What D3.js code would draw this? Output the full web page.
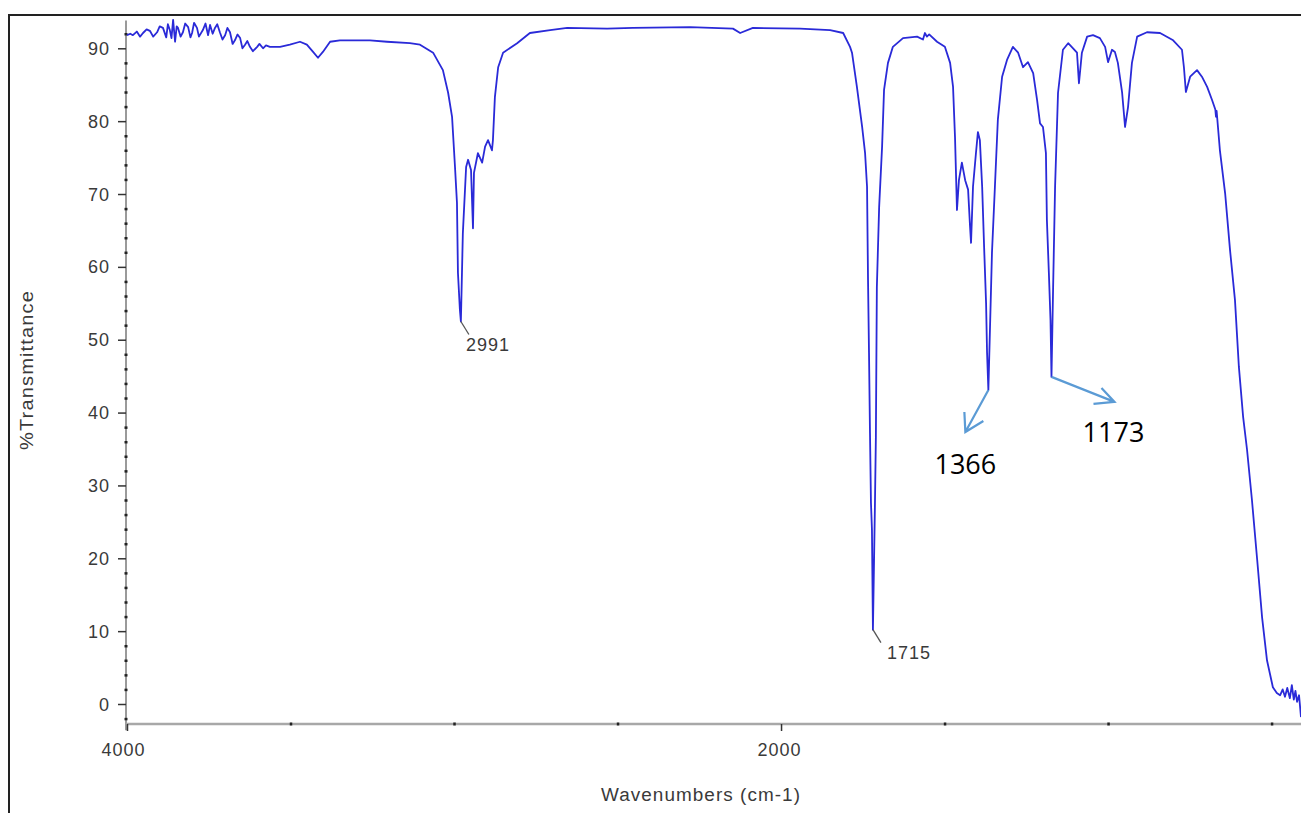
<!DOCTYPE html>
<html>
<head>
<meta charset="utf-8">
<script src="https://cdn.jsdelivr.net/npm/d3@7"></script>
<style>
  html, body { margin: 0; padding: 0; background: #ffffff; }
  svg { display: block; }
  .tick-label { font-family: "Liberation Sans", Arial, sans-serif; font-size: 18px; fill: #3a3a3a; letter-spacing: 1px; }
  .anno { font-family: "Open Sans", "Noto Sans", sans-serif; font-size: 27px; fill: #000; }
</style>
</head>
<body>
<script>
// ---- Data ----
const wavenumbers = [
  4000, 3990, 3982, 3970, 3960, 3951, 3940, 3930, 3920, 3908, 3900, 3890, 3880, 3875, 3869, 3864, 3859, 3853, 3848, 3844,
  3836, 3829, 3822, 3813, 3806, 3801, 3795, 3786, 3780, 3768, 3760, 3752, 3746, 3738, 3731, 3724, 3716, 3708, 3700, 3693,
  3685, 3677, 3670, 3662, 3654, 3647, 3639, 3632, 3624, 3615, 3602, 3595, 3584, 3575, 3563,
  3532, 3502, 3471, 3450, 3431, 3416, 3401, 3379, 3349, 3257, 3205, 3135, 3104,
  3064, 3034, 3018, 3006, 2997, 2991, 2988, 2982, 2979, 2973, 2963, 2957, 2948, 2942, 2939, 2927, 2914, 2905, 2896, 2884,
  2881, 2875, 2865, 2850, 2807, 2768, 2706, 2654, 2532, 2453, 2278, 2147, 2125, 2086, 1942, 1850, 1810, 1789, 1783, 1768,
  1752, 1743, 1737, 1734, 1731, 1728, 1725, 1722, 1719, 1713, 1710, 1707, 1700, 1691, 1685, 1673, 1658, 1627, 1584, 1566,
  1560, 1554, 1547, 1523, 1499, 1483, 1474, 1468, 1462, 1456, 1447, 1437, 1428, 1422, 1419, 1413, 1404, 1398, 1392, 1385,
  1379, 1373, 1370, 1366, 1355, 1346, 1337, 1324, 1309, 1291, 1275, 1260, 1245, 1229, 1217, 1208, 1199, 1190, 1187, 1181,
  1176, 1173, 1168, 1162, 1153, 1138, 1122, 1107, 1095, 1089, 1080, 1064, 1046, 1025, 1009, 1000, 988, 979, 970, 957,
  948, 939, 927, 911, 881, 841, 801, 774, 768, 762, 749, 728, 713, 697, 682, 672, 670, 668, 658, 642,
  627, 612, 600, 587, 575, 560, 544, 529, 514, 496, 484, 474, 466, 459, 452, 444, 438, 432, 427, 422,
  416, 410
];
const transmittance = [
  91.8, 92.0, 91.8, 92.3, 91.6, 92.1, 92.6, 92.4, 91.6, 92.2, 93.0, 92.8, 91.5, 93.3, 92.5, 91.4, 93.9, 90.9, 93.0, 92.8,
  91.6, 92.2, 93.4, 92.9, 91.5, 92.1, 93.5, 92.8, 91.6, 92.5, 93.4, 91.8, 93.2, 92.0, 92.8, 93.3, 92.2, 91.2, 91.8, 92.8,
  92.2, 90.6, 91.1, 91.9, 91.4, 90.0, 90.5, 91.0, 90.2, 89.6, 90.2, 90.6, 90.0, 90.4, 90.2,
  90.2, 90.5, 90.9, 90.5, 89.5, 88.7, 89.5, 90.9, 91.1, 91.1, 90.9, 90.7, 90.5,
  89.4, 87.0, 83.9, 80.6, 73.7, 68.8, 59.2, 54.1, 52.5, 64.6, 73.7, 74.7, 73.3, 65.3, 72.9, 75.6, 74.3, 76.5, 77.4, 76.0,
  77.4, 83.3, 87.4, 89.4, 90.7, 92.1, 92.5, 92.8, 92.7, 92.8, 92.9, 92.7, 92.1, 92.8, 92.7, 92.5, 92.1, 90.2, 89.4, 84.7,
  79.2, 75.6, 71.0, 58.2, 48.2, 37.2, 27.6, 23.9, 10.2, 27.0, 36.6, 57.2, 68.2, 76.5, 84.3, 88.0, 90.2, 91.4, 91.6, 91.2,
  92.1, 91.6, 91.9, 90.9, 90.2, 88.0, 84.7, 77.8, 67.8, 71.9, 74.3, 71.9, 70.6, 65.5, 63.3, 71.0, 75.6, 78.5, 77.4, 71.0,
  62.7, 55.0, 48.2, 43.1, 61.9, 71.0, 80.2, 86.1, 88.4, 90.2, 89.4, 87.4, 88.1, 86.6, 82.9, 79.7, 79.2, 75.6, 66.4, 59.2,
  52.7, 44.9, 57.2, 71.0, 83.9, 89.8, 90.7, 90.0, 89.4, 85.2, 89.4, 91.6, 91.8, 91.4, 90.2, 88.1, 89.8, 89.5, 88.0, 83.9,
  79.2, 81.9, 88.0, 91.6, 92.2, 92.1, 91.1, 89.8, 87.4, 84.0, 86.1, 87.0, 86.1, 84.7, 82.9, 81.6, 80.6, 81.4, 76.0, 70.1,
  62.3, 55.5, 46.3, 39.4, 34.9, 28.0, 19.8, 11.9, 6.0, 2.3, 1.5, 1.2, 2.0, 1.0, 2.2, 0.8, 2.6, 0.6, 1.8, 0.3,
  1.2, -1.8
];
const yTickValues = [0, 10, 20, 30, 40, 50, 60, 70, 80, 90];
const yMinorValues = [-2, 2, 4, 6, 8, 12, 14, 16, 18, 22, 24, 26, 28, 32, 34, 36, 38, 42, 44, 46, 48, 52, 54, 56, 58, 62, 64, 66, 68, 72, 74, 76, 78, 82, 84, 86, 88, 92];
const xTickValues = [4000, 2000];
const xMinorValues = [3500, 3000, 2500, 1500, 1000, 500];
const peakLabels = [ { wn: 2979, t: 52.5, text: "2991" }, { wn: 1719, t: 10.2, text: "1715" } ];
const arrowLabels = [ { wn: 1366, t: 43.1, text: "1366" }, { wn: 1173, t: 44.9, text: "1173" } ];
const xTitle = "Wavenumbers (cm-1)";
const yTitle = "%Transmittance";

// ---- Layout ----
const W = 1301, H = 813;
const svg = d3.select("body").append("svg").attr("width", W).attr("height", H);

const x = d3.scaleLinear().domain([4000, 410]).range([127, 1301]);
const y = d3.scaleLinear().domain([0, 90]).range([704, 48.3]);

// frame (top and left)
svg.append("path").attr("d", `M9,${H} L9,15 L${W},15`).attr("fill", "none").attr("stroke", "#222").attr("stroke-width", 2);

// y axis line
const axisX = 126;
svg.append("line").attr("x1", axisX).attr("x2", axisX).attr("y1", y(93.8)).attr("y2", y(-3.6))
  .attr("stroke", "#9a9a9a").attr("stroke-width", 2);
// x axis line
const axisY = 724;
svg.append("line").attr("x1", axisX).attr("x2", W).attr("y1", axisY).attr("y2", axisY)
  .attr("stroke", "#a8a8a8").attr("stroke-width", 2.5);

// y axis ticks via d3 axis
const yAxis = svg.append("g").attr("transform", `translate(${axisX},0)`)
  .call(d3.axisLeft(y).tickValues(yTickValues).tickSize(8).tickPadding(8).tickFormat(d3.format("d")));
yAxis.select(".domain").remove();
yAxis.selectAll(".tick line").attr("stroke", "#333").attr("stroke-width", 1.5);
yAxis.selectAll(".tick text").attr("class", "tick-label").attr("dy", "0.34em");

const yMinor = svg.append("g").attr("transform", `translate(${axisX + 1.5},0)`)
  .call(d3.axisLeft(y).tickValues(yMinorValues).tickSize(3).tickFormat(""));
yMinor.select(".domain").remove();
yMinor.selectAll(".tick line").attr("stroke", "#222").attr("stroke-width", 2.5);

// x axis ticks
const xAxis = svg.append("g").attr("transform", `translate(0,${axisY})`)
  .call(d3.axisBottom(x).tickValues(xTickValues).tickSize(7).tickPadding(12).tickFormat(d3.format("d")));
xAxis.select(".domain").remove();
xAxis.selectAll(".tick line").attr("stroke", "#333").attr("stroke-width", 1.5);
xAxis.selectAll(".tick text").attr("class", "tick-label").attr("dx", d => d === 4000 ? -4 : -2);

const xMinor = svg.append("g").attr("transform", `translate(0,${axisY + 1.5})`)
  .call(d3.axisBottom(x).tickValues(xMinorValues).tickSize(-3).tickFormat(""));
xMinor.select(".domain").remove();
xMinor.selectAll(".tick line").attr("stroke", "#222").attr("stroke-width", 2.5);

// axis titles
svg.append("text").attr("class", "tick-label").attr("x", 701).attr("y", 801)
  .attr("text-anchor", "middle").attr("textLength", 200).attr("lengthAdjust", "spacingAndGlyphs").text(xTitle);
svg.append("text").attr("class", "tick-label").attr("transform", "translate(33,370) rotate(-90)")
  .attr("text-anchor", "middle").attr("textLength", 160).attr("lengthAdjust", "spacingAndGlyphs").text(yTitle);

// spectrum line
const data = wavenumbers.map((w, i) => ({ w, t: transmittance[i] }));
svg.append("path").datum(data)
  .attr("fill", "none").attr("stroke", "#2a2ad8").attr("stroke-width", 1.8).attr("stroke-linejoin", "round")
  .attr("d", d3.line().x(d => x(d.w)).y(d => y(d.t)));

// peak labels with leader lines
peakLabels.forEach((p, i) => {
  const px = x(p.wn), py = y(p.t);
  svg.append("line").attr("x1", px).attr("y1", py).attr("x2", px + 8).attr("y2", py + 13)
    .attr("stroke", "#555").attr("stroke-width", 1.3);
  svg.append("text").attr("class", "tick-label").attr("x", px + (i === 0 ? 5 : 14)).attr("y", py + 29).text(p.text);
});

// arrow annotations
const arrowColor = "#5b9bd5";
const a1 = arrowLabels[0], a2 = arrowLabels[1];
{
  const sx = x(a1.wn), sy = y(a1.t);
  const tx = sx - 23, ty = sy + 42;
  svg.append("path").attr("d", `M${sx},${sy} L${tx},${ty} M${tx - 1},${ty - 20} L${tx},${ty} L${tx + 18},${ty - 11}`)
    .attr("fill", "none").attr("stroke", arrowColor).attr("stroke-width", 2.2);
  svg.append("text").attr("class", "anno").attr("x", tx).attr("y", sy + 84).attr("text-anchor", "middle").text(a1.text);
}
{
  const sx = x(a2.wn), sy = y(a2.t);
  const tx = sx + 63, ty = sy + 25;
  svg.append("path").attr("d", `M${sx},${sy} L${tx},${ty} M${tx - 13},${ty - 14} L${tx},${ty} L${tx - 21},${ty + 2}`)
    .attr("fill", "none").attr("stroke", arrowColor).attr("stroke-width", 2.2);
  svg.append("text").attr("class", "anno").attr("x", sx + 62).attr("y", sy + 65).attr("text-anchor", "middle").text(a2.text);
}
</script>
</body>
</html>
